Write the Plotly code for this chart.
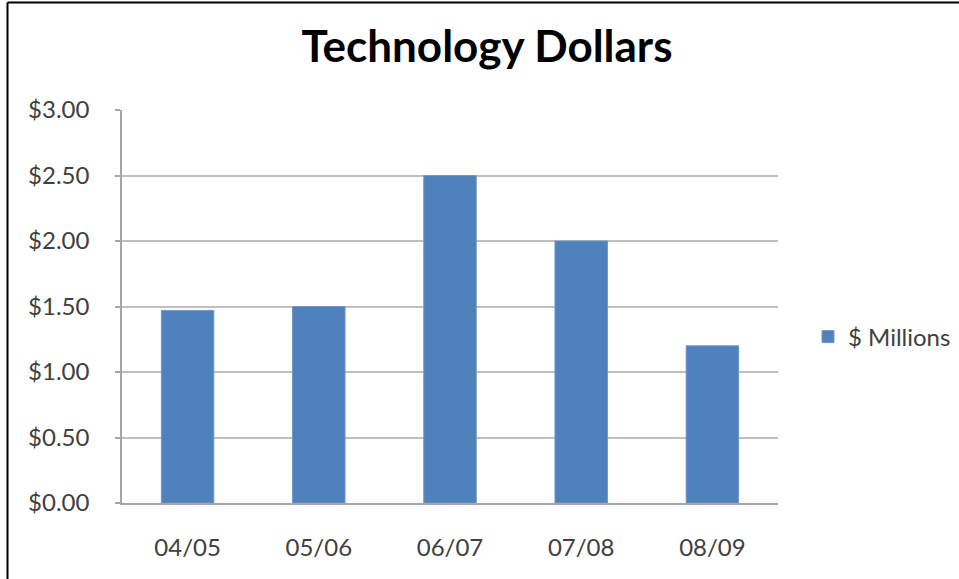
import plotly.graph_objects as go

categories = ["04/05", "05/06", "06/07", "07/08", "08/09"]
values = [1.47, 1.50, 2.50, 2.00, 1.20]
series_name = "$ Millions"
title_text = "Technology Dollars"

W, H = 959, 579
L, R, T, B = 122, 181, 110, 76
pw, ph = W - L - R, H - T - B

def px_to_paper_x(x):
    return (x - L) / pw

def px_to_paper_y(y):
    return (H - B - y) / ph

fig = go.Figure()
fig.add_trace(go.Bar(
    x=categories, y=values, name=series_name,
    marker=dict(color="#4F81BD", line=dict(color="#6F97CB", width=1)),
    showlegend=True,
))

fig.update_layout(
    width=W, height=H,
    margin=dict(l=L, r=R, t=T, b=B, autoexpand=False),
    paper_bgcolor="white", plot_bgcolor="white",
    bargap=0.6,
    font=dict(family="Lato, 'Open Sans', sans-serif", size=24, color="#404040"),
    title=dict(text=title_text, x=487 / W, xanchor="center",
               y=1 - 47 / H, yanchor="middle",
               font=dict(family="Lato, 'Open Sans', sans-serif", size=44, color="black", weight="bold")),
    showlegend=True,
    legend=dict(x=px_to_paper_x(808), y=px_to_paper_y(337), xanchor="left", yanchor="middle",
                font=dict(size=24, color="#404040"), bgcolor="rgba(0,0,0,0)",
                itemwidth=30),
    xaxis=dict(showline=True, linecolor="#A6A6A6", linewidth=1.5, showgrid=False,
               ticks="", tickfont=dict(size=24, color="#404040"), ticklabelstandoff=22),
    yaxis=dict(range=[0, 3.0], dtick=0.5, tickprefix="$", tickformat=".2f",
               showgrid=True, gridcolor="#BFBFBF", gridwidth=1.5,
               showline=True, linecolor="#A6A6A6", linewidth=1.5,
               ticks="outside", ticklen=5, tickcolor="#A6A6A6", tickwidth=1.5,
               tickfont=dict(size=24, color="#404040"), ticklabelstandoff=21,
               zeroline=False),
    shapes=[
        dict(type="line", xref="paper", yref="paper",
             x0=px_to_paper_x(7.5), x1=px_to_paper_x(W + 5),
             y0=px_to_paper_y(2.5), y1=px_to_paper_y(2.5),
             line=dict(color="black", width=2)),
        dict(type="line", xref="paper", yref="paper",
             x0=px_to_paper_x(7.5), x1=px_to_paper_x(7.5),
             y0=px_to_paper_y(2.5), y1=px_to_paper_y(H + 5),
             line=dict(color="black", width=2)),
    ],
)

fig.write_html("out.html", config={"displayModeBar": False},
               post_script="document.body.style.margin='0';document.body.style.overflow='hidden';")
